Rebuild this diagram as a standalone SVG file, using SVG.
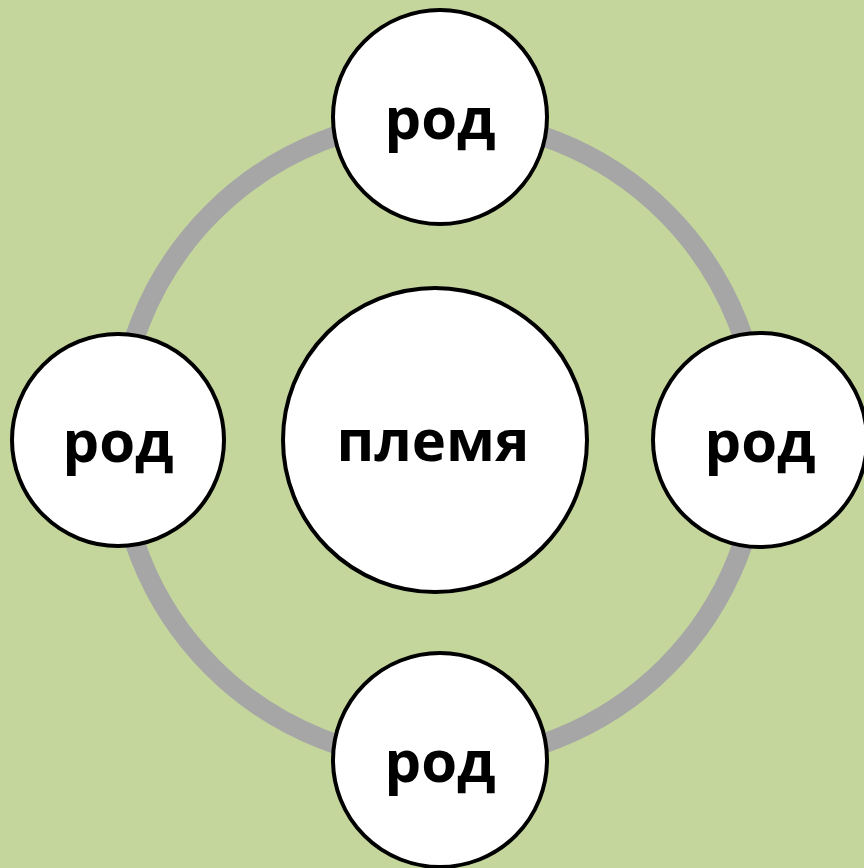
<svg xmlns="http://www.w3.org/2000/svg" width="864" height="868" viewBox="0 0 864 868">
<style>
.node{fill:#ffffff;stroke:#000000;stroke-width:4}
.lbl{font-family:"Open Sans","Noto Sans",sans-serif;font-weight:700;font-size:58px;fill:#000000;text-anchor:middle}
</style>
<rect x="0" y="0" width="864" height="868" fill="#c4d69c"/>
<g id="connectors">
<circle cx="439" cy="440" r="321" fill="none" stroke="#a6a6a6" stroke-width="20"/>
</g>
<g id="node-top"><circle class="node" cx="440" cy="117" r="107"/><text class="lbl" x="440" y="139">род</text></g>
<g id="node-left"><circle class="node" cx="118" cy="440" r="106"/><text class="lbl" x="118" y="462">род</text></g>
<g id="node-right"><circle class="node" cx="760" cy="440" r="107"/><text class="lbl" x="760" y="462">род</text></g>
<g id="node-bottom"><circle class="node" cx="440" cy="760" r="107"/><text class="lbl" x="440" y="782">род</text></g>
<g id="node-center"><circle class="node" cx="435" cy="440" r="152"/><text class="lbl" x="433" y="461">племя</text></g>
</svg>
